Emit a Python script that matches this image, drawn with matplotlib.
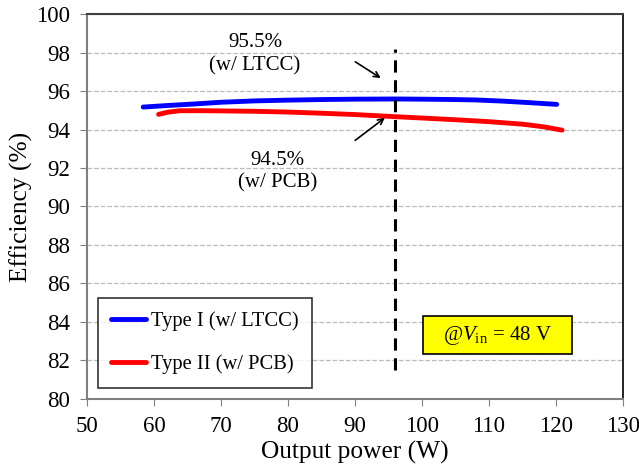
import numpy as np
import matplotlib.pyplot as plt
from matplotlib.patches import Rectangle

plt.rcParams['font.family'] = ['Liberation Serif', 'DejaVu Serif']
plt.rcParams['mathtext.fontset'] = 'custom'
plt.rcParams['mathtext.rm'] = 'Liberation Serif'
plt.rcParams['mathtext.it'] = 'Liberation Serif:italic'

# Type I (w/ LTCC)
p_ltcc = [58.4, 62, 66, 70, 75, 80, 85, 90, 96, 100, 105, 108, 112, 116, 120.1]
eff_ltcc = [95.17, 95.25, 95.33, 95.42, 95.49, 95.53, 95.56, 95.58, 95.59, 95.58, 95.56, 95.54, 95.48, 95.40, 95.31]

# Type II (w/ PCB)
p_pcb = [60.7, 62, 63.9, 67, 70, 75, 80, 85, 90, 96, 100, 105, 110, 115, 118, 120.9]
eff_pcb = [94.79, 94.90, 94.98, 94.98, 94.97, 94.95, 94.91, 94.85, 94.78, 94.67, 94.60, 94.51, 94.41, 94.28, 94.15, 93.97]

x_ticks = np.arange(50, 131, 10)
y_ticks = np.arange(80, 101, 2)

fig = plt.figure(figsize=(6.39, 4.72), dpi=100)
ax = fig.add_axes([0.136, 0.155, 0.839, 0.815])

ax.plot(p_ltcc, eff_ltcc, color='#0000ff', lw=3.5, solid_capstyle='round', label='Type I (w/ LTCC)')
ax.plot(p_pcb, eff_pcb, color='#ff0000', lw=3.5, solid_capstyle='round', label='Type II (w/ PCB)')

ax.plot([96, 96], [81.5, 98.2], color='black', lw=2.2, ls=(0, (4, 2.5)))

ax.annotate('', xy=(94.2, 96.6), xytext=(89.7, 97.6),
            arrowprops=dict(arrowstyle='->', color='black', lw=1.2))
ax.annotate('', xy=(94.8, 94.7), xytext=(89.7, 93.35),
            arrowprops=dict(arrowstyle='->', color='black', lw=1.2))
ax.text(75.1, 97.9, '95.5%\n(w/ LTCC)', ha='center', va='center', fontsize=15, linespacing=1.3)
ax.text(78.5, 91.8, '94.5%\n(w/ PCB)', ha='center', va='center', fontsize=15, linespacing=1.25)

# yellow condition box
ax.add_patch(Rectangle((100.1, 82.34), 22.3, 1.97, fc='#ffff00', ec='black', lw=1.2, zorder=3))
ax.text(111.2, 83.3, r'@$V_{\rm in}$ = 48 V', ha='center', va='center', fontsize=15, zorder=4)

ax.set_xlim(50, 130)
ax.set_ylim(80, 100)
ax.set_xticks(x_ticks)
ax.set_yticks(y_ticks)
ax.tick_params(labelsize=16.5, direction='out', length=5, color='#808080', pad=7)
ax.grid(axis='y', color='#bbbbbb', ls='--', lw=0.9)
ax.set_axisbelow(True)
for s in ['left', 'bottom']:
    ax.spines[s].set_color('#808080')
    ax.spines[s].set_linewidth(1.5)
ax.spines['top'].set_color('#404040')
ax.spines['top'].set_linewidth(1.5)
ax.spines['right'].set_color('black')
ax.spines['right'].set_linewidth(1.2)

ax.set_xlabel('Output power (W)', fontsize=18.3, labelpad=3)
ax.set_ylabel('Efficiency (%)', fontsize=18.3, labelpad=2)

leg = ax.legend(loc='lower left', bbox_to_anchor=(0.0205, 0.0286), fontsize=14.8, frameon=True,
                fancybox=False, edgecolor='black', handlelength=1.7, handletextpad=0.25,
                labelspacing=1.15, borderpad=0.65, borderaxespad=0)
leg.get_frame().set_linewidth(1.2)

fig.savefig('out.png', dpi=100)
